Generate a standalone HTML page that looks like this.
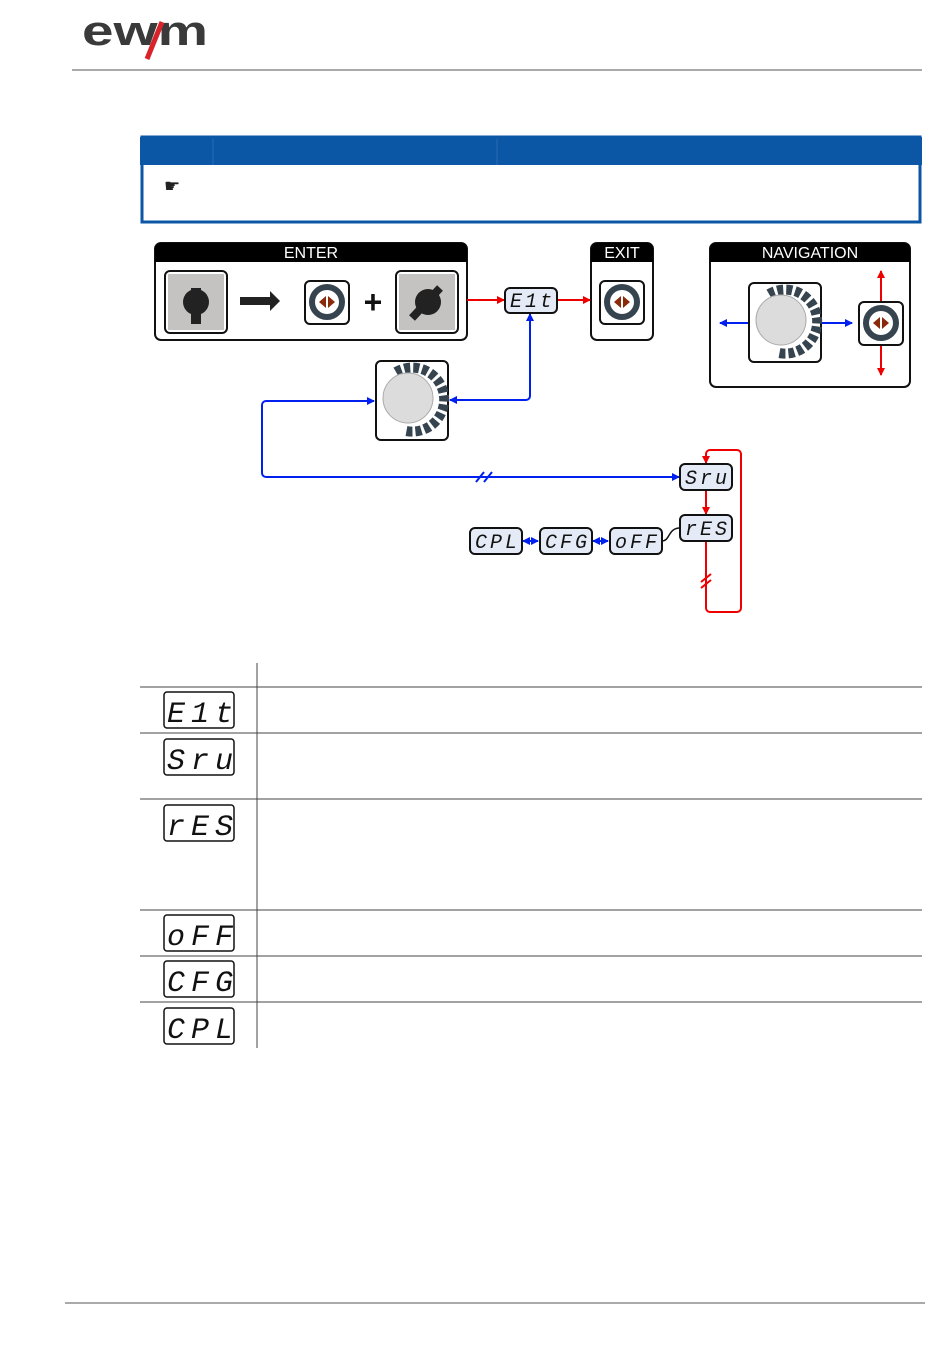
<!DOCTYPE html>
<html><head><meta charset="utf-8"><style>
body{margin:0;background:#fff;width:950px;height:1360px;overflow:hidden;font-family:"Liberation Sans",sans-serif}
svg{display:block}
.seg{font-family:"Liberation Mono",monospace;font-style:italic;font-size:20px;fill:#111;letter-spacing:3px}
.segb{font-family:"Liberation Mono",monospace;font-style:italic;font-size:30px;fill:#111;letter-spacing:6px}
.hd{font-family:"Liberation Sans",sans-serif;font-size:16px;fill:#fff;text-anchor:middle}
</style></head><body>
<svg width="950" height="1360" viewBox="0 0 950 1360">
<defs>
<marker id="ar" markerWidth="8" markerHeight="8" refX="7" refY="4" orient="auto" markerUnits="userSpaceOnUse"><path d="M0,0 L8,4 L0,8 z" fill="#e00"/></marker>
<marker id="ab" markerWidth="8" markerHeight="8" refX="7" refY="4" orient="auto" markerUnits="userSpaceOnUse"><path d="M0,0 L8,4 L0,8 z" fill="#0020f0"/></marker>
<marker id="abs" markerWidth="8" markerHeight="8" refX="1" refY="4" orient="auto" markerUnits="userSpaceOnUse"><path d="M8,0 L0,4 L8,8 z" fill="#0020f0"/></marker>
<g id="knob">
<rect x="-36" y="-39" width="72" height="79" rx="5" fill="#fff" stroke="#111" stroke-width="2"/>
<path d="M-16,-28 A32,32 0 1 1 -6,31" fill="none" stroke="#36444f" stroke-width="10" stroke-dasharray="6 3"/>
<circle cx="-4" cy="-2" r="25" fill="#dcdcdc" stroke="#aaa" stroke-width="1"/>
</g>
<g id="btn">
<rect x="-22" y="-21" width="44" height="43" rx="5" fill="#fff" stroke="#111" stroke-width="2"/>
<circle cx="0" cy="0" r="15" fill="#fff" stroke="#36444f" stroke-width="6"/>
<path d="M-1,-6 L-8,0 L-1,6z M1,-6 L8,0 L1,6z" fill="#8a2a0a"/>
</g>
</defs>

<!-- logo -->
<text x="82" y="45" font-family="Liberation Sans" font-weight="bold" font-size="42" fill="#3a3a3a" textLength="126" lengthAdjust="spacingAndGlyphs">ewm</text>
<path d="M147,59 L162,22" stroke="#d8232a" stroke-width="5"/>
<line x1="72" y1="70" x2="922" y2="70" stroke="#555" stroke-width="1"/>

<!-- note box -->
<rect x="140" y="137" width="782" height="28" fill="#0b56a5"/>
<line x1="213" y1="137" x2="213" y2="165" stroke="#2a6ab0"/>
<line x1="497" y1="137" x2="497" y2="165" stroke="#2a6ab0"/>
<rect x="142" y="137" width="778" height="85" fill="none" stroke="#0b56a5" stroke-width="3"/>
<text x="164" y="192" font-size="18" fill="#222">☛</text>

<!-- ENTER -->
<rect x="155" y="243" width="312" height="97" rx="6" fill="#fff" stroke="#111" stroke-width="2"/>
<path d="M155,262 V249 a6,6 0 0 1 6,-6 H461 a6,6 0 0 1 6,6 V262z" fill="#000"/>
<text x="311" y="258" class="hd">ENTER</text>
<rect x="165" y="271" width="62" height="62" rx="5" fill="#fff" stroke="#111" stroke-width="2"/>
<rect x="168" y="274" width="56" height="56" fill="#c4c3c1"/>
<circle cx="196" cy="302" r="13" fill="#222"/><rect x="191" y="288" width="10" height="36" fill="#222"/>
<path d="M240,297 H270 V291 L280,301 L270,311 V305 H240z" fill="#222"/>
<use href="#btn" x="327" y="302"/>
<text x="373" y="313" font-size="32" font-weight="bold" text-anchor="middle" fill="#111">+</text>
<rect x="396" y="271" width="62" height="62" rx="5" fill="#fff" stroke="#111" stroke-width="2"/>
<rect x="399" y="274" width="56" height="56" fill="#c4c3c1"/>
<circle cx="428" cy="302" r="13" fill="#222"/><path d="M412,318 L440,288" stroke="#222" stroke-width="8"/>

<!-- EXIT -->
<rect x="591" y="243" width="62" height="97" rx="6" fill="#fff" stroke="#111" stroke-width="2"/>
<path d="M591,262 V249 a6,6 0 0 1 6,-6 H647 a6,6 0 0 1 6,6 V262z" fill="#000"/>
<text x="622" y="258" class="hd">EXIT</text>
<use href="#btn" x="622" y="302"/>

<!-- NAVIGATION -->
<rect x="710" y="243" width="200" height="144" rx="6" fill="#fff" stroke="#111" stroke-width="2"/>
<path d="M710,262 V249 a6,6 0 0 1 6,-6 H904 a6,6 0 0 1 6,6 V262z" fill="#000"/>
<text x="810" y="258" class="hd">NAVIGATION</text>
<line x1="749" y1="323" x2="720" y2="323" stroke="#0020f0" stroke-width="2" marker-end="url(#ab)"/>
<line x1="822" y1="323" x2="852" y2="323" stroke="#0020f0" stroke-width="2" marker-end="url(#ab)"/>
<use href="#knob" x="785" y="322"/>
<line x1="881" y1="301" x2="881" y2="271" stroke="#e00" stroke-width="2" marker-end="url(#ar)"/>
<line x1="881" y1="345" x2="881" y2="375" stroke="#e00" stroke-width="2" marker-end="url(#ar)"/>
<use href="#btn" x="881" y="323"/>

<!-- connectors -->
<line x1="467" y1="300" x2="504" y2="300" stroke="#e00" stroke-width="2" marker-end="url(#ar)"/>
<line x1="557" y1="300" x2="590" y2="300" stroke="#e00" stroke-width="2" marker-end="url(#ar)"/>
<path d="M450,400 H526 a4,4 0 0 0 4,-4 V314" fill="none" stroke="#0020f0" stroke-width="2" marker-end="url(#ab)" marker-start="url(#abs)"/>
<use href="#knob" x="412" y="400"/>
<path d="M679,477 H266 a4,4 0 0 1 -4,-4 V405 a4,4 0 0 1 4,-4 H374" fill="none" stroke="#0020f0" stroke-width="2" marker-end="url(#ab)"/>
<path d="M476,482 L484,472 M484,482 L492,472" stroke="#0020f0" stroke-width="2"/>
<line x1="670" y1="477" x2="679" y2="477" stroke="#0020f0" stroke-width="2" marker-end="url(#ab)"/>
<!-- red loop -->
<path d="M706,542 V608 a4,4 0 0 0 4,4 H737 a4,4 0 0 0 4,-4 V454 a4,4 0 0 0 -4,-4 H710 a4,4 0 0 0 -4,4 V463" fill="none" stroke="#e00" stroke-width="2" marker-end="url(#ar)"/>
<path d="M701,582 L711,574 M701,588 L711,580" stroke="#e00" stroke-width="2"/>
<line x1="706" y1="490" x2="706" y2="514" stroke="#e00" stroke-width="2" marker-end="url(#ar)"/>
<path d="M662,541 C670,541 668,528 680,528" fill="none" stroke="#111" stroke-width="1.5"/>
<line x1="523" y1="541" x2="538" y2="541" stroke="#0020f0" stroke-width="2" marker-end="url(#ab)" marker-start="url(#abs)"/>
<line x1="593" y1="541" x2="608" y2="541" stroke="#0020f0" stroke-width="2" marker-end="url(#ab)" marker-start="url(#abs)"/>

<!-- displays -->
<g>
<rect x="505" y="288" width="52" height="25" rx="5" fill="#e4ebf6" stroke="#111" stroke-width="2"/><text x="510" y="307" class="seg">E1t</text>
<rect x="680" y="464" width="52" height="26" rx="5" fill="#e4ebf6" stroke="#111" stroke-width="2"/><text x="685" y="484" class="seg">Sru</text>
<rect x="680" y="515" width="52" height="26" rx="5" fill="#e4ebf6" stroke="#111" stroke-width="2"/><text x="685" y="535" class="seg">rES</text>
<rect x="610" y="528" width="52" height="26" rx="5" fill="#e4ebf6" stroke="#111" stroke-width="2"/><text x="615" y="548" class="seg">oFF</text>
<rect x="540" y="528" width="52" height="26" rx="5" fill="#e4ebf6" stroke="#111" stroke-width="2"/><text x="545" y="548" class="seg">CFG</text>
<rect x="470" y="528" width="52" height="26" rx="5" fill="#e4ebf6" stroke="#111" stroke-width="2"/><text x="475" y="548" class="seg">CPL</text>
</g>

<!-- table -->
<line x1="257" y1="663" x2="257" y2="1048" stroke="#444"/>
<g stroke="#444">
<line x1="140" y1="687" x2="922" y2="687"/><line x1="140" y1="733" x2="922" y2="733"/>
<line x1="140" y1="799" x2="922" y2="799"/><line x1="140" y1="910" x2="922" y2="910"/>
<line x1="140" y1="956" x2="922" y2="956"/><line x1="140" y1="1002" x2="922" y2="1002"/>
</g>
<g fill="#fff" stroke="#111" stroke-width="1.5">
<rect x="164" y="692" width="70" height="36" rx="3"/><rect x="164" y="739" width="70" height="36" rx="3"/>
<rect x="164" y="805" width="70" height="36" rx="3"/><rect x="164" y="915" width="70" height="36" rx="3"/>
<rect x="164" y="961" width="70" height="36" rx="3"/><rect x="164" y="1008" width="70" height="36" rx="3"/>
</g>
<text x="167" y="722" class="segb">E1t</text>
<text x="167" y="769" class="segb">Sru</text>
<text x="167" y="835" class="segb">rES</text>
<text x="167" y="945" class="segb">oFF</text>
<text x="167" y="991" class="segb">CFG</text>
<text x="167" y="1038" class="segb">CPL</text>

<line x1="65" y1="1303" x2="925" y2="1303" stroke="#555"/>
</svg>
</body></html>
